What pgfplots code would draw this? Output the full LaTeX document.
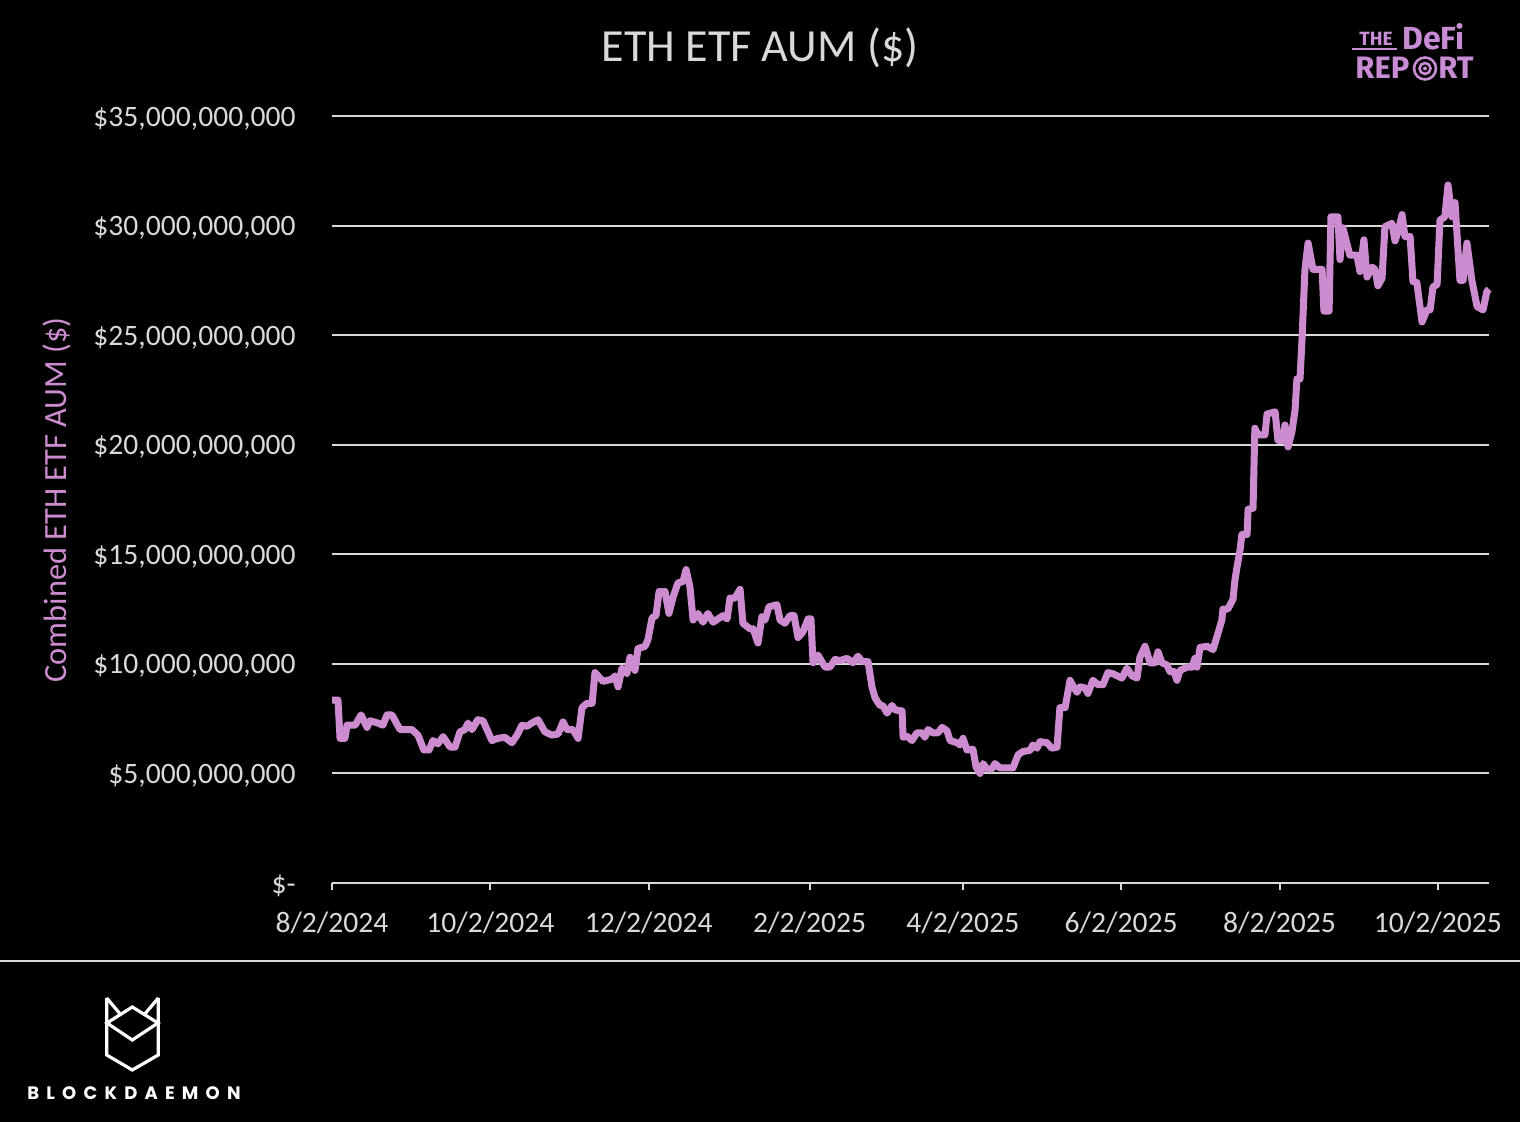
\documentclass[border=0pt]{standalone}
\usepackage{pgfplots}
\pgfplotsset{compat=1.18}
\usepackage{fontspec}
\setmainfont{Carlito}
\newfontfamily\logofont{Fira Sans}
\newfontfamily\bdfont[LetterSpace=40]{Poppins}
\definecolor{pinkline}{RGB}{206,140,208}
\definecolor{txtgray}{RGB}{217,217,217}
\definecolor{gridgray}{RGB}{217,217,217}
\definecolor{logopink}{RGB}{200,140,212}
\begin{document}
\begin{tikzpicture}
\fill[black] (0,0) rectangle (760pt,561pt);
\begin{axis}[
  at={(166pt,119.5pt)}, anchor=south west,
  scale only axis, width=578.5pt, height=383.5pt,
  xmin=0, xmax=445.7, ymin=0, ymax=35,
  axis line style={draw=none},
  ymajorgrids, grid style={gridgray, line width=1pt},
  ytick={0,5,10,15,20,25,30,35},
  yticklabels={\$-,{\$5,000,000,000},{\$10,000,000,000},{\$15,000,000,000},{\$20,000,000,000},{\$25,000,000,000},{\$30,000,000,000},{\$35,000,000,000}},
  xtick={0,61,122,184,243,304,365,426},
  xticklabels={8/2/2024,10/2/2024,12/2/2024,2/2/2025,4/2/2025,6/2/2025,8/2/2025,10/2/2025},
  xtick pos=bottom, tick align=outside,
  major tick length=3.5pt,
  xtick style={gridgray, line width=1pt},
  ytick style={draw=none},
  /pgf/number format/assume math mode=true,
  ticklabel style={font=\fontsize{14.8pt}{17pt}\selectfont, text=txtgray},
  yticklabel style={anchor=east, inner sep=0pt, xshift=-14.5pt, yshift=-1.2pt},
  xticklabel style={anchor=north, inner sep=0pt, yshift=-11pt},
  clip=false,
]
\draw[gridgray, line width=1pt] (axis cs:0,0) -- (axis cs:445.7,0);
\addplot[pinkline, line width=3.5pt, line join=round] coordinates {
(0,8.35)(2.3,8.35)(3.1,6.6)(5.0,6.6)(5.8,7.2)(8.9,7.2)(11.2,7.67)(13.5,7.1)(14.6,7.4)(17.7,7.3)
(19.6,7.2)(21.2,7.67)(23.1,7.67)(26.2,7.0)(30.8,7.0)(33.1,6.75)(35.4,6.07)(37.4,6.07)(38.9,6.5)(40.8,6.35)
(42.8,6.68)(45.5,6.2)(47.4,6.2)(49.3,6.9)(51.2,7.0)(52.4,7.3)(53.9,7.0)(56.2,7.45)(58.2,7.4)(61.6,6.5)
(63.9,6.6)(66.6,6.65)(69.3,6.4)(71.3,6.75)(73.2,7.2)(75.1,7.15)(77.0,7.3)(79.4,7.45)(82.0,6.9)(84.7,6.75)
(87.1,6.8)(89.0,7.35)(90.5,7.0)(92.8,7.0)(94.8,6.6)(96.3,8.0)(98.2,8.2)(100.2,8.2)(101.3,9.6)(104.4,9.2)
(107.9,9.3)(109.0,9.45)(110.2,8.95)(111.7,9.8)(113.6,9.55)(114.8,10.3)(116.7,9.7)(117.9,10.7)(120.6,10.8)(121.7,11.1)
(123.3,12.1)(124.8,12.2)(126.0,13.3)(128.3,13.3)(129.8,12.3)(131.4,13.05)(133.3,13.7)(135.2,13.75)(136.4,14.3)(137.9,13.5)
(139.1,12.0)(141.0,12.3)(142.9,11.9)(144.8,12.3)(146.8,11.9)(148.7,12.05)(150.6,12.2)(152.2,12.05)(153.3,13.0)(155.2,13.0)
(157.2,13.4)(158.3,11.85)(161.0,11.6)(162.2,11.6)(164.1,10.95)(165.6,12.15)(166.8,12.0)(168.3,12.6)(171.4,12.7)(172.6,12.0)
(174.5,11.85)(176.4,12.2)(178.0,12.2)(179.5,11.2)(181.4,11.45)(183.4,12.05)(184.5,12.05)(185.3,10.05)(187.2,10.4)(189.9,9.85)
(191.8,9.85)(193.8,10.2)(195.7,10.15)(198.4,10.25)(200.7,10.05)(202.6,10.35)(204.2,10.1)(206.5,10.1)(208.0,8.95)(209.2,8.45)
(211.1,8.1)(212.2,8.1)(213.8,7.75)(215.7,8.1)(216.9,7.9)(219.6,7.85)(220.0,6.65)(221.5,6.7)(223.4,6.5)(225.3,6.85)
(227.3,6.85)(228.4,6.65)(229.6,7.0)(231.5,6.85)(233.4,6.85)(235.0,7.1)(236.9,6.95)(238.1,6.5)(240.8,6.4)(241.9,6.3)
(243.1,6.6)(244.6,6.07)(246.9,6.1)(248.1,5.3)(249.6,5.0)(250.8,5.45)(252.3,5.2)(254.2,5.2)(255.4,5.45)(257.3,5.25)
(262.3,5.25)(264.3,5.85)(266.2,6.0)(268.9,6.05)(270.0,6.3)(271.6,6.15)(272.7,6.45)(275.4,6.4)(277.3,6.15)(279.3,6.2)
(280.4,8.0)(282.4,8.0)(284.3,9.25)(285.4,9.0)(287.0,8.7)(288.1,8.95)(290.1,8.9)(291.2,8.65)(293.1,9.25)(295.1,9.05)
(297.0,9.05)(298.9,9.6)(300.8,9.55)(304.3,9.35)(306.2,9.8)(308.2,9.45)(310.1,9.35)(311.2,10.3)(313.2,10.8)(315.1,10.05)
(317.0,10.05)(318.2,10.55)(319.7,10.05)(321.6,9.95)(322.8,9.65)(324.3,9.65)(325.5,9.25)(326.7,9.7)(329.4,9.85)(331.3,9.85)
(332.4,10.25)(333.2,9.85)(334.4,10.75)(337.1,10.8)(339.4,10.65)(341.3,11.4)(342.8,12.0)(343.2,12.5)(345.1,12.5)(347.1,12.95)
(347.8,13.8)(348.6,14.4)(349.8,15.2)(350.5,15.9)(352.5,15.9)(352.9,17.05)(354.8,17.1)(355.5,20.75)(356.7,20.45)(359.4,20.45)
(360.2,21.4)(363.3,21.5)(364.4,20.2)(366.3,20.2)(367.1,20.9)(368.3,19.9)(369.8,20.6)(371.0,21.6)(371.7,23.0)(372.9,23.0)
(373.7,24.9)(374.8,28.0)(376.0,29.2)(377.9,28.0)(381.4,28.0)(382.1,26.1)(384.1,26.1)(384.8,30.4)(387.5,30.4)(388.3,28.45)
(389.4,29.9)(392.1,28.65)(394.8,28.65)(396.0,27.9)(397.5,29.35)(398.7,27.65)(400.6,28.1)(401.8,28.0)(402.9,27.25)(404.5,27.6)
(405.6,29.95)(408.3,30.1)(409.5,29.3)(410.6,29.7)(412.2,30.5)(413.3,29.5)(415.3,29.5)(416.4,27.45)(417.9,27.4)(419.9,25.6)
(421.8,26.15)(423.0,26.15)(424.1,27.2)(425.7,27.3)(426.8,30.25)(428.7,30.4)(429.9,31.85)(431.4,30.4)(432.6,31.05)(434.5,27.5)
(435.7,27.5)(437.2,29.2)(439.1,27.5)(441.1,26.3)(443.4,26.15)(444.9,27.0)(445.7,27.1)
};
\end{axis}
\begin{scope}[x=0.5pt,y=-0.5pt,yshift=561pt]
  % title
  \node[text=txtgray, font=\fontsize{23pt}{26pt}\selectfont] at (760,48) {ETH ETF AUM (\$)};
  % y label
  \node[text=pinkline, font=\fontsize{16.2pt}{18pt}\selectfont, rotate=90] at (57,500) {Combined ETH ETF AUM (\$)};
  % separator
  \draw[gridgray, line width=1pt] (0,961) -- (1520,961);
  % Blockdaemon logo
  \draw[white, line width=1.6pt, line join=miter] (106.7,998) -- (106.7,1055) -- (132.3,1070) -- (158.3,1055) -- (158.3,998);
  \draw[white, line width=1.6pt] (106.7,998) -- (121,1015);
  \draw[white, line width=1.6pt] (158.3,998) -- (144,1015);
  \draw[white, line width=1.6pt, line join=miter] (107,1023) -- (132.3,1007) -- (158,1023) -- (132.3,1040) -- cycle;
  \node[text=white, font=\bdfont\bfseries\fontsize{9pt}{10pt}\selectfont, anchor=west, inner sep=0pt] at (27,1093) {BLOCKDAEMON};
  % DeFi report logo
  \node[text=logopink, font=\logofont\bfseries\fontsize{9.6pt}{10pt}\selectfont, anchor=base west, inner sep=0pt] at (1359,46) {THE};
  \draw[logopink, line width=1pt] (1352,49.5) -- (1397,49.5);
  \node[text=logopink, font=\logofont\bfseries\fontsize{16pt}{18pt}\selectfont, anchor=base west, inner sep=0pt] at (1402,49.5) {DeFi};
  \node[text=logopink, font=\logofont\bfseries\fontsize{15.5pt}{18pt}\selectfont, anchor=base west, inner sep=0pt] at (1355,79) {REP};
  \draw[logopink, line width=1.3pt] (1425,68.5) circle (11);
  \draw[logopink, line width=1.3pt] (1425,68.5) circle (5.5);
  \fill[logopink] (1425,68.5) circle (2);
  \node[text=logopink, font=\logofont\bfseries\fontsize{15.5pt}{18pt}\selectfont, anchor=base west, inner sep=0pt] at (1438,79) {RT};
\end{scope}
\pgfresetboundingbox
\path (0,0) rectangle (760pt,561pt);
\end{tikzpicture}
\end{document}
